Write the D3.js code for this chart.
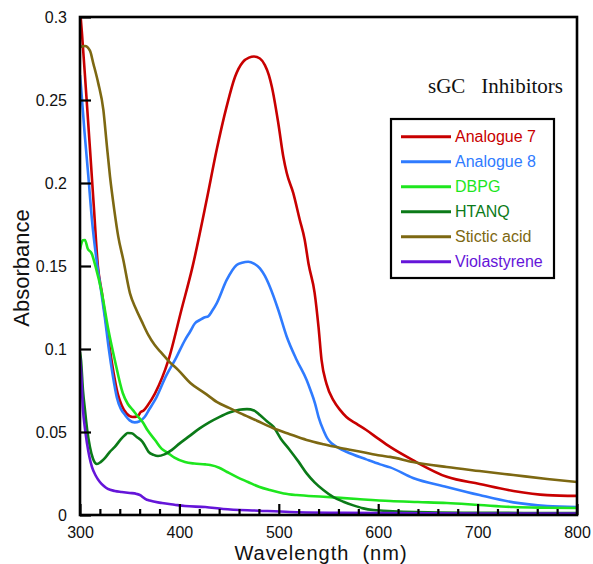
<!DOCTYPE html>
<html>
<head>
<meta charset="utf-8">
<script src="https://cdn.jsdelivr.net/npm/d3@7"></script>
<style>
  html, body { margin: 0; padding: 0; background: #fff; }
  svg { display: block; }
</style>
</head>
<body>
<svg id="chart" width="593" height="564"></svg>
<script>
// ---------- data ----------
const seriesNames = ["Analogue 7", "Analogue 8", "DBPG", "HTANQ", "Stictic acid", "Violastyrene"];
const seriesColors = ["#c80000", "#2f7bff", "#1ee61e", "#0b7a18", "#7d6812", "#6515d9"];

const analogue7 = [[300,0.305],[302,0.29],[306,0.256],[310,0.221],[314,0.185],[318,0.15],[322,0.134],[326,0.117],[330,0.1],[334,0.085],[338,0.073],[342,0.066],[347,0.061],[353,0.059],[358,0.0595],[361,0.062],[364,0.063],[368,0.066],[375.5,0.0733],[389,0.0934],[402,0.1235],[413,0.149],[427.5,0.19],[437.5,0.22],[447.5,0.246],[456,0.264],[464,0.273],[470,0.2755],[475,0.2762],[481,0.275],[486,0.271],[490,0.265],[493,0.258],[499.5,0.236],[504.5,0.216],[508,0.206],[514.5,0.194],[521,0.178],[526,0.166],[530,0.151],[536,0.134],[540,0.113],[543,0.0934],[548,0.079],[555,0.069],[562,0.063],[568,0.059],[578,0.055],[588,0.0512],[600,0.046],[612,0.041],[635,0.033],[669,0.023],[702,0.0187],[736,0.0145],[770,0.012],[800,0.0115]];

const analogue8 = [[300,0.265],[301,0.258],[304.5,0.231],[308.4,0.204],[312,0.178],[317,0.152],[321,0.136],[325,0.119],[329,0.1],[333,0.084],[337,0.071],[341,0.064],[345,0.0605],[350,0.057],[355,0.0558],[360,0.0565],[365,0.059],[370,0.064],[375.5,0.0693],[387,0.0843],[395.6,0.0934],[405.6,0.1054],[410.7,0.1104],[415.7,0.1155],[420.7,0.1175],[425,0.119],[429,0.1197],[433,0.123],[437.5,0.1275],[447.6,0.1416],[457.6,0.1506],[463,0.152],[469.3,0.1526],[475,0.1515],[481,0.1486],[486,0.144],[491,0.1375],[499.5,0.1235],[508,0.1074],[518,0.0934],[528,0.0813],[532,0.075],[536.4,0.0673],[540,0.059],[544.8,0.0512],[549,0.046],[553,0.0432],[560,0.0405],[568,0.0381],[588,0.0335],[602,0.0305],[612,0.0287],[635,0.0223],[669,0.0169],[702,0.012],[736,0.0076],[770,0.0054],[800,0.0048]];

const dbpg = [[300,0.16],[301,0.1627],[303,0.1655],[305,0.1657],[307.7,0.1606],[311.7,0.1576],[315.7,0.1496],[322,0.1337],[328,0.1133],[335,0.0934],[343,0.0735],[348,0.067],[353,0.0633],[358,0.0595],[363,0.056],[368,0.051],[375.5,0.0452],[382,0.04],[388.5,0.0373],[395,0.0345],[405.6,0.0319],[415,0.031],[426,0.0305],[431,0.0301],[440,0.0285],[448,0.0259],[458,0.0228],[469,0.0199],[480,0.017],[491,0.015],[505,0.013],[518,0.012],[545,0.011],[579,0.0096],[612,0.0084],[640,0.0078],[669,0.0072],[702,0.006],[736,0.0048],[770,0.0044],[800,0.0042]];

const htanq = [[300,0.098],[301,0.0934],[303,0.075],[305,0.0633],[307.5,0.05],[310,0.041],[313,0.034],[317,0.0307],[321,0.032],[325,0.0343],[330,0.038],[335,0.041],[341,0.0455],[345,0.048],[348,0.0494],[352,0.0492],[357,0.047],[363,0.044],[366,0.041],[369,0.038],[374,0.0362],[378.5,0.0355],[385,0.0365],[392.5,0.0392],[400,0.043],[410,0.0475],[420,0.052],[430,0.0558],[440,0.059],[451,0.0619],[460,0.0634],[468,0.0638],[475,0.063],[481,0.0602],[488,0.0565],[494.5,0.0532],[502,0.046],[511,0.0392],[520,0.032],[528,0.0251],[536,0.0197],[544.8,0.0151],[555,0.0108],[565,0.008],[575,0.0058],[585,0.004],[595,0.003],[605,0.0026],[650,0.0016],[700,0.0013],[800,0.0012]];

const sticticAcid = [[300,0.282],[305,0.2825],[310,0.2797],[313.4,0.272],[318.4,0.26],[323.5,0.244],[326.8,0.2239],[330.2,0.2038],[334.5,0.1837],[338.5,0.1677],[343.6,0.1536],[350.3,0.1335],[356,0.1245],[362,0.1168],[368.7,0.1085],[375,0.1025],[382.2,0.0975],[390,0.0923],[398.9,0.0873],[411,0.0795],[425.8,0.0733],[438,0.068],[450,0.0645],[461,0.0614],[478,0.0568],[494,0.0524],[511,0.0487],[528,0.0452],[545,0.0426],[562,0.0404],[585,0.0378],[602,0.0358],[612,0.035],[635,0.0319],[669,0.0289],[702,0.0265],[736,0.0241],[770,0.0217],[800,0.0199]];

const violastyrene = [[300,0.095],[301,0.0873],[303,0.0633],[305,0.052],[307,0.0434],[309.5,0.035],[312,0.029],[316,0.0235],[320,0.0199],[324,0.0175],[328,0.0157],[335,0.0145],[342,0.0139],[350,0.0133],[357,0.0127],[361,0.0118],[363,0.0108],[366,0.0096],[370,0.0087],[382.5,0.0072],[395,0.0062],[405.6,0.0054],[426,0.0048],[444,0.0036],[480,0.0026],[511,0.0018],[560,0.0013],[600,0.0011],[700,0.0009],[800,0.0008]];

const seriesData = [analogue7, analogue8, dbpg, htanq, sticticAcid, violastyrene];

const xMajorTicks = [300, 400, 500, 600, 700, 800];
const xTickLabels = ["300", "400", "500", "600", "700", "800"];
const xMinorTicks = [320,340,360,380,420,440,460,480,520,540,560,580,620,640,660,680,720,740,760,780];
const yTicks = [0, 0.05, 0.1, 0.15, 0.2, 0.25, 0.3];
const yTickLabels = ["0", "0.05", "0.1", "0.15", "0.2", "0.25", "0.3"];

// ---------- layout ----------
const SANS = "'Liberation Sans', Arial, Helvetica, sans-serif";
const SERIF = "'Liberation Serif', 'Times New Roman', Times, serif";
const svg = d3.select("#chart");
const m = { left: 80, top: 17, right: 577, bottom: 515 };
const W = m.right - m.left, H = m.bottom - m.top;

const x = d3.scaleLinear().domain([300, 800]).range([0, W]);
const y = d3.scaleLinear().domain([0, 0.3]).range([H, 0]);

const g = svg.append("g").attr("transform", `translate(${m.left},${m.top})`);

svg.append("defs").append("clipPath").attr("id", "plotclip")
  .append("rect").attr("x", 0).attr("y", 0).attr("width", W).attr("height", H);

// curves
const line = d3.line().x(d => x(d[0])).y(d => y(d[1])).curve(d3.curveMonotoneX);
const curves = g.append("g").attr("clip-path", "url(#plotclip)");
seriesData.forEach((s, i) => {
  curves.append("path").datum(s)
    .attr("d", line)
    .attr("fill", "none")
    .attr("stroke", seriesColors[i])
    .attr("stroke-width", 2.6)
    .attr("stroke-linejoin", "round");
});

// axes (ticks inward)
const xAxis = d3.axisBottom(x).tickValues(xMajorTicks)
  .tickFormat((d, i) => xTickLabels[i]).tickSize(-11).tickPadding(11.5);
const xg = g.append("g").attr("transform", `translate(0,${H})`).call(xAxis);
const xMinor = d3.axisBottom(x).tickValues(xMinorTicks).tickFormat("").tickSize(-6);
const xmg = g.append("g").attr("transform", `translate(0,${H})`).call(xMinor);

const yAxis = d3.axisLeft(y).tickValues(yTicks)
  .tickFormat((d, i) => yTickLabels[i]).tickSize(-11).tickPadding(13);
const yg = g.append("g").call(yAxis);

[xg, xmg, yg].forEach(a => {
  a.attr("font-family", null).attr("font-size", null);
  a.select(".domain").remove();
  a.selectAll(".tick line").attr("stroke", "#000").attr("stroke-width", 2.2);
  a.selectAll(".tick text").style("font-size", "16px").attr("fill", "#111")
    .style("font-family", SANS);
});

// frame
g.append("rect").attr("x", 0).attr("y", 0).attr("width", W).attr("height", H)
  .attr("fill", "none").attr("stroke", "#000").attr("stroke-width", 2.6);

// axis titles
svg.append("text").attr("x", 321).attr("y", 559.5).attr("text-anchor", "middle")
  .style("font-family", SANS).style("font-size", "20px").style("letter-spacing", "1px")
  .style("white-space", "pre")
  .attr("fill", "#111").text("Wavelength  (nm)");
svg.append("text").attr("transform", "translate(29,268) rotate(-90)")
  .attr("text-anchor", "middle").style("font-family", SANS).style("font-size", "22px")
  .attr("fill", "#111").text("Absorbance");

// title
svg.append("text").attr("x", 428).attr("y", 93)
  .style("font-family", SERIF).style("font-size", "21px").attr("fill", "#111").text("sGC");
svg.append("text").attr("x", 563).attr("y", 93).attr("text-anchor", "end")
  .style("font-family", SERIF).style("font-size", "21px").attr("fill", "#111").text("Inhibitors");

// legend
const lg = svg.append("g");
lg.append("rect").attr("x", 391).attr("y", 119).attr("width", 163).attr("height", 159)
  .attr("fill", "#fff").attr("stroke", "#000").attr("stroke-width", 2.2);
seriesNames.forEach((name, i) => {
  const yy = 136.7 + i * 25;
  lg.append("line").attr("x1", 401).attr("x2", 451).attr("y1", yy).attr("y2", yy)
    .attr("stroke", seriesColors[i]).attr("stroke-width", 3);
  lg.append("text").attr("x", 455).attr("y", yy).attr("dy", "0.35em")
    .style("font-family", SANS).style("font-size", "16px")
    .attr("fill", seriesColors[i]).text(name);
});
</script>
</body>
</html>
